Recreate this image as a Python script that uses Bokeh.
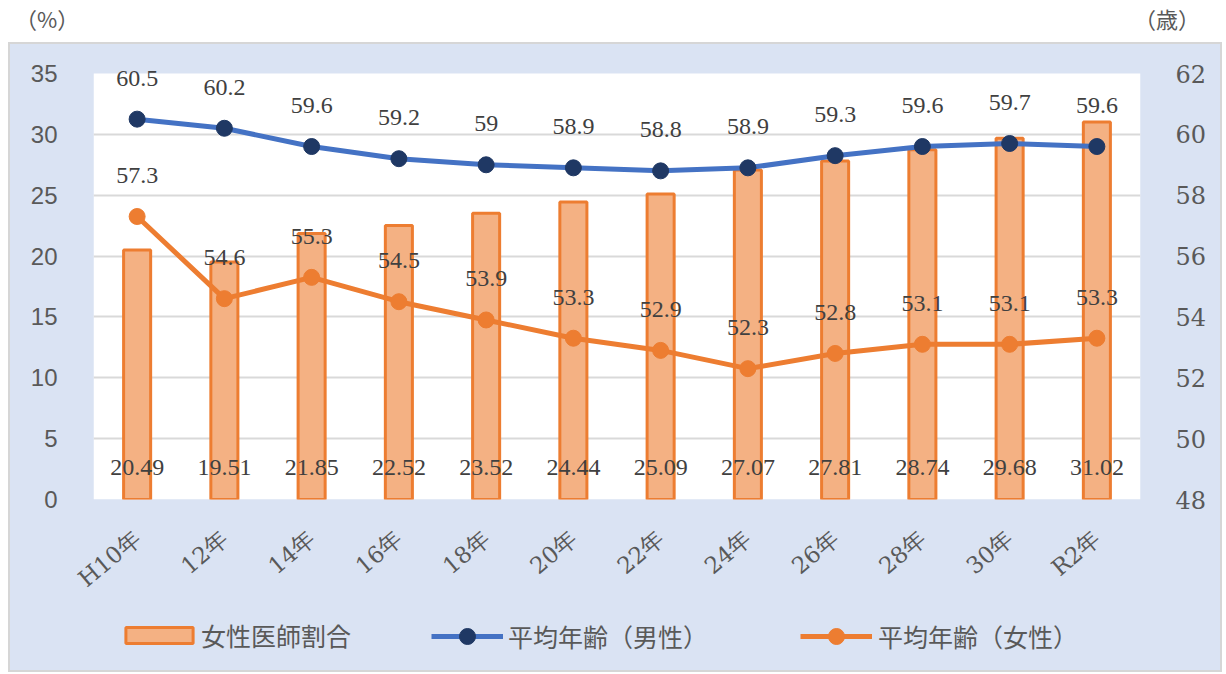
import math
from bokeh.plotting import figure
from bokeh.models import (ColumnDataSource, Range1d, LinearAxis, FixedTicker, Legend,
                          LegendItem, LabelSet, Div, FactorRange, BoxAnnotation)
from bokeh.layouts import column
from bokeh.embed import file_html
from bokeh.resources import INLINE

categories = ["H10年", "12年", "14年", "16年", "18年", "20年", "22年", "24年", "26年", "28年", "30年", "R2年"]
female_ratio = [20.49, 19.51, 21.85, 22.52, 23.52, 24.44, 25.09, 27.07, 27.81, 28.74, 29.68, 31.02]
male_age = [60.5, 60.2, 59.6, 59.2, 59.0, 58.9, 58.8, 58.9, 59.3, 59.6, 59.7, 59.6]
female_age = [57.3, 54.6, 55.3, 54.5, 53.9, 53.3, 52.9, 52.3, 52.8, 53.1, 53.1, 53.3]
left_ticks = [0, 5, 10, 15, 20, 25, 30, 35]
right_ticks = [48, 50, 52, 54, 56, 58, 60, 62]
series_names = ["女性医師割合", "平均年齢（男性）", "平均年齢（女性）"]

SERIF = "DejaVu Serif"
SANS = "Noto Sans CJK JP"
GRAY = "#595959"
DARK = "#404040"
PANEL = "#dae3f3"
BAR_FILL = "#f4b183"
ORANGE = "#ed7d31"
BLUE = "#4472c4"
NAVY = "#1f3864"

# white plot area is PLOT_PX tall; TOP_PX of panel colour above it stays inside the frame
PLOT_PX = 426
TOP_PX = 10
L0, L1 = left_ticks[0], left_ticks[-1]
R0, R1 = right_ticks[0], right_ticks[-1]

src = ColumnDataSource(dict(
    cat=categories,
    ratio=female_ratio,
    ratio_lbl=[f"{v:.2f}" for v in female_ratio],
    base=[L0] * len(categories),
    male=male_age,
    male_lbl=[f"{v:g}" for v in male_age],
    female=female_age,
    female_lbl=[f"{v:g}" for v in female_age],
))

x_range = FactorRange(*categories, range_padding=0)

p = figure(width=1210, height=561, x_range=x_range,
           y_range=Range1d(L0, L1 + (L1 - L0) * TOP_PX / PLOT_PX),
           output_backend="svg", toolbar_location=None,
           border_fill_color=PANEL, background_fill_color=PANEL, background_fill_alpha=0,
           outline_line_color=None,
           min_border_left=83, min_border_right=80,
           min_border_top=29 - TOP_PX, min_border_bottom=106)
p.margin = (0, 0, 0, 0)
p.extra_y_ranges = {"age": Range1d(R0, R1 + (R1 - R0) * TOP_PX / PLOT_PX)}

# white plot area
p.add_layout(BoxAnnotation(bottom=L0, top=L1, fill_color="white", fill_alpha=1,
                           line_color=None, level="image"))

p.yaxis.ticker = FixedTicker(ticks=left_ticks)
right_axis = LinearAxis(y_range_name="age", ticker=FixedTicker(ticks=right_ticks))
p.add_layout(right_axis, "right")

for ax in p.axis:
    ax.axis_line_color = None
    ax.major_tick_line_color = None
    ax.minor_tick_line_color = None
    ax.major_label_text_font_size = "24px"
    ax.major_label_text_color = GRAY
p.yaxis[0].major_label_text_font = "Liberation Sans"
p.yaxis[0].major_label_standoff = 30
right_axis.major_label_text_font = SERIF
right_axis.major_label_standoff = 29
p.xaxis.major_label_text_font = SERIF
p.xaxis.major_label_text_font_size = "23px"
p.xaxis.major_label_orientation = math.radians(40)
p.xaxis.major_label_standoff = 30

p.xgrid.grid_line_color = None
p.ygrid.ticker = FixedTicker(ticks=left_ticks[:-1])
p.ygrid.grid_line_color = "#d9d9d9"
p.ygrid.grid_line_width = 2

p.vbar(x="cat", top="ratio", width=0.31, source=src,
       fill_color=BAR_FILL, line_color=ORANGE, line_width=3)
p.line("cat", "male", source=src, y_range_name="age", line_color=BLUE, line_width=5)
p.scatter("cat", "male", source=src, y_range_name="age", size=16,
          fill_color=NAVY, line_color=NAVY)
p.line("cat", "female", source=src, y_range_name="age", line_color=ORANGE, line_width=5)
p.scatter("cat", "female", source=src, y_range_name="age", size=16,
          fill_color=ORANGE, line_color=ORANGE)

lbl_kw = dict(text_font=SERIF, text_font_size="24px", text_color=DARK,
              text_align="center", text_baseline="middle")
p.add_layout(LabelSet(x="cat", y="base", text="ratio_lbl", source=src, y_offset=32, **lbl_kw))
p.add_layout(LabelSet(x="cat", y="male", text="male_lbl", source=src, y_range_name="age",
                      y_offset=41, **lbl_kw))
p.add_layout(LabelSet(x="cat", y="female", text="female_lbl", source=src, y_range_name="age",
                      y_offset=41, **lbl_kw))

# legend strip continuing the panel below the chart; its renderers share the data but
# its y range lies far away from every value, and a panel-coloured box covers the
# glyph layer, so only the legend shows there
far = 10 * (R1 + L1)
lg_fig = figure(width=1210, height=65, x_range=x_range, y_range=Range1d(far, far + 1),
                output_backend="svg", toolbar_location=None,
                x_axis_location=None, y_axis_location=None,
                border_fill_color=PANEL, background_fill_color=PANEL, background_fill_alpha=0,
                outline_line_color=None,
                min_border_left=83, min_border_right=80, min_border_top=0, min_border_bottom=0)
lg_fig.margin = (0, 0, 0, 0)
lg_fig.xgrid.grid_line_color = None
lg_fig.ygrid.grid_line_color = None
lg_bar = lg_fig.vbar(x="cat", top="ratio", width=0.31, source=src,
                     fill_color=BAR_FILL, line_color=ORANGE, line_width=3)
lg_ml = lg_fig.line("cat", "male", source=src, line_color=BLUE, line_width=5)
lg_ms = lg_fig.scatter("cat", "male", source=src, size=16, fill_color=NAVY, line_color=NAVY)
lg_fl = lg_fig.line("cat", "female", source=src, line_color=ORANGE, line_width=5)
lg_fs = lg_fig.scatter("cat", "female", source=src, size=16, fill_color=ORANGE, line_color=ORANGE)
lg_fig.add_layout(BoxAnnotation(fill_color=PANEL, fill_alpha=1, line_color=None, level="guide"))

def make_legend(name, renderers, loc, gw, gh, standoff):
    lg = Legend(items=[LegendItem(label=name, renderers=renderers)],
                location=loc, orientation="horizontal",
                glyph_width=gw, glyph_height=gh, label_standoff=standoff,
                padding=0, margin=0, spacing=0,
                background_fill_alpha=0, border_line_color=None,
                label_text_font=SANS, label_text_font_size="25px",
                label_text_color=GRAY)
    lg_fig.add_layout(lg, "center")

make_legend(series_names[0], [lg_bar], (24, 17), 84, 20, 0)
make_legend(series_names[1], [lg_ml, lg_ms], (338, 14), 72, 40, 5)
make_legend(series_names[2], [lg_fl, lg_fs], (707, 14), 72, 40, 6)

panel = column(p, lg_fig, spacing=0)
panel.margin = (0, 0, 0, 10)
panel.styles = {"background-color": PANEL, "box-shadow": "0 0 0 2px #d6d6d6"}

header = Div(text=(
    '<div style="position:relative;width:1222px;height:44px;'
    'font-family:\'Noto Sans CJK JP\';font-size:22px;line-height:22px;color:#595959">'
    '<span style="position:absolute;left:15px;top:7px">（%）</span>'
    '<span style="position:absolute;left:1134px;top:7px">（歳）</span></div>'),
    width=1222, height=44)
header.margin = (0, 0, 0, 0)

layout = column(header, panel, spacing=0)
open("out.html", "w").write(file_html(layout, INLINE))
